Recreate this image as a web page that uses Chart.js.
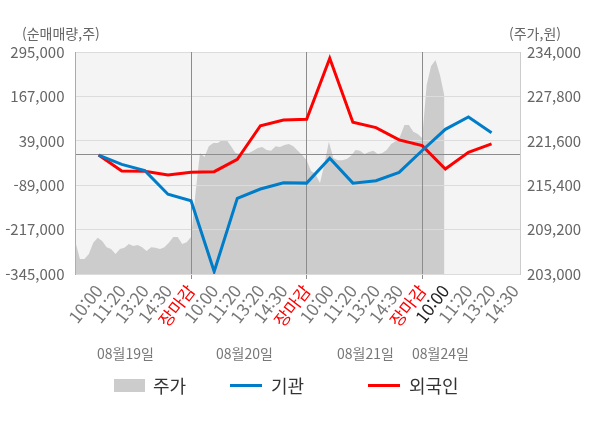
<!DOCTYPE html>
<html lang="ko">
<head>
  <meta charset="UTF-8">
  <title>기관 / 외국인 순매매량</title>
  <script src="https://cdn.jsdelivr.net/npm/chart.js"></script>
  <style>
    body {
      margin: 0;
      background: #fff;
      font-family: "Noto Sans CJK KR", "Noto Sans", sans-serif;
    }
    #wrap {
      position: relative;
      width: 600px;
      height: 428px;
    }
    #chart {
      position: absolute;
      left: 0;
      top: 0;
    }
    .txt {
      position: absolute;
      white-space: nowrap;
      line-height: 1;
    }
    .unit { font-size: 14px; color: #666; top: 26px; }
    .day { font-size: 14px; color: #777; top: 346px; }
    .legend { font-size: 18px; color: #333; top: 376px; }
    .swatch { position: absolute; }
  </style>
</head>
<body>
  <div id="wrap">
    <canvas id="chart" width="600" height="428"></canvas>

    <!-- axis units -->
    <div class="txt unit" style="left:22px">(순매매량,주)</div>
    <div class="txt unit" style="left:509px">(주가,원)</div>

    <!-- day labels under the time ticks -->
    <div class="txt day" style="left:97px">08월19일</div>
    <div class="txt day" style="left:216px">08월20일</div>
    <div class="txt day" style="left:337px">08월21일</div>
    <div class="txt day" style="left:412px">08월24일</div>

    <!-- legend -->
    <div class="swatch" style="left:114px;top:379px;width:31px;height:13px;background:#cccccc"></div>
    <div class="txt legend" style="left:153px">주가</div>
    <div class="swatch" style="left:230px;top:384px;width:32px;height:3px;background:#007dc8"></div>
    <div class="txt legend" style="left:271px">기관</div>
    <div class="swatch" style="left:368px;top:384px;width:32px;height:3px;background:#ff0000"></div>
    <div class="txt legend" style="left:409px">외국인</div>
  </div>

  <script>
    // time slots (5 per day, last day cut at 14:30)
    const xLabels = [
      '10:00', '11:20', '13:20', '14:30', '장마감',
      '10:00', '11:20', '13:20', '14:30', '장마감',
      '10:00', '11:20', '13:20', '14:30', '장마감',
      '10:00', '11:20', '13:20', '14:30'
    ];
    const currentTick = 15; // first slot of 08/24, drawn darker

    // cumulative net buying (shares)
    const institution = [
      -2000, -29000, -47000, -115000, -134000,
      -338000, -127000, -100000, -82000, -83000,
      -11500, -83000, -76000, -52000, 11000,
      72000, 107500, 62500, null
    ];
    const foreigner = [
      -2000, -48000, -49000, -59500, -52000,
      -50000, -14500, 82500, 99000, 101000,
      277000, 92500, 77000, 41500, 25000,
      -42500, 6000, 30000, null
    ];

    // share price, one value every 15 minutes of trading (09:00 ~ 15:30)
    const price = [
      207450, 205100, 205100, 205800, 207350, 208050, 207600, 206750, 206500, 205800,
      206500, 206650, 207200, 206900, 207050, 206750, 206200, 206750, 206650, 206500,
      206750, 207350, 208150, 208150, 207200, 207450, 208150, 214300, 219900, 219350,
      220850, 221300, 221300, 221700, 221700, 220850, 219900, 219750, 219900, 219900,
      220200, 220600, 220750, 220300, 220200, 220850, 220750, 221000, 221150, 220850,
      220200, 219600, 218900, 217400, 216950, 215700, 218350, 221450, 219200, 218900,
      218900, 219050, 219500, 220300, 220200, 219750, 220050, 220200, 219750, 219900,
      220300, 221150, 221550, 222150, 223800, 223800, 222850, 222550, 222000, 229400,
      232050, 232900, 230800, 227850
    ];

    const leftTicks = [-345000, -217000, -89000, 0, 39000, 167000, 295000];
    const rightTicks = [203000, 209200, 215400, 221600, 227800, 234000];

    const SLOT = 78;       // minutes per time slot (390 / 5)
    const PRICE_STEP = 15; // minutes between price samples
    const SPAN = 1500;     // minutes shown on the x axis

    const fmt = v => v.toLocaleString('en-US');

    const priceData = price.map((p, k) => ({ x: k * PRICE_STEP, y: p }));
    const instData = institution.map((v, i) => ({ x: SLOT * (i + 1), y: v }));
    const forData = foreigner.map((v, i) => ({ x: SLOT * (i + 1), y: v }));

    // plot background, and grid lines painted over the price area
    const chartDecor = {
      id: 'chartDecor',
      beforeDraw(chart) {
        const { ctx, chartArea: a } = chart;
        ctx.save();
        ctx.fillStyle = '#f4f4f4';
        ctx.fillRect(a.left, a.top, a.right - a.left, a.bottom - a.top);
        ctx.restore();
      },
      afterDatasetDraw(chart, args) {
        if (args.index !== 0) return;
        chart.scales.y.drawGrid(chart.chartArea);
        chart.scales.x.drawGrid(chart.chartArea);
      }
    };

    new Chart(document.getElementById('chart'), {
      type: 'line',
      data: {
        datasets: [
          {
            label: '주가',
            data: priceData,
            yAxisID: 'y1',
            order: 3,
            fill: 'start',
            backgroundColor: '#cccccc',
            borderWidth: 0,
            pointRadius: 0,
            tension: 0
          },
          {
            label: '기관',
            data: instData,
            yAxisID: 'y',
            order: 1,
            borderColor: '#007dc8',
            borderWidth: 3,
            pointRadius: 0,
            fill: false,
            tension: 0
          },
          {
            label: '외국인',
            data: forData,
            yAxisID: 'y',
            order: 2,
            borderColor: '#ff0000',
            borderWidth: 3,
            pointRadius: 0,
            fill: false,
            tension: 0
          }
        ]
      },
      options: {
        responsive: false,
        animation: false,
        layout: { padding: { top: 52 } },
        plugins: {
          legend: { display: false },
          tooltip: { enabled: false }
        },
        scales: {
          x: {
            type: 'linear',
            min: 0,
            max: SPAN,
            afterBuildTicks: s => { s.ticks = xLabels.map((_, i) => ({ value: SLOT * (i + 1) })); },
            afterFit: s => { s.height = 154; },
            grid: {
              color: c => xLabels[c.index] === '장마감' ? '#8c8c8c' : 'rgba(0,0,0,0)',
              tickLength: 5
            },
            border: { color: '#999', width: 1 },
            ticks: {
              minRotation: 52,
              maxRotation: 52,
              autoSkip: false,
              padding: 2,
              font: { size: 17, family: '"Noto Sans CJK KR", sans-serif' },
              color: c => xLabels[c.index] === '장마감' ? '#ff0000' : (c.index === currentTick ? '#222' : '#777'),
              callback: (v, i) => xLabels[i]
            }
          },
          y: {
            position: 'left',
            min: -345000,
            max: 295000,
            afterBuildTicks: s => { s.ticks = leftTicks.map(v => ({ value: v })); },
            afterFit: s => { s.width = 75.5; },
            grid: {
              color: c => c.tick.value === 0 ? '#8c8c8c' : '#dcdcdc',
              drawTicks: false
            },
            border: { color: '#aaa', width: 1 },
            ticks: {
              padding: 11,
              font: { size: 15, family: '"Noto Sans CJK KR", sans-serif' },
              color: '#666',
              callback: v => v === 0 ? '' : fmt(v)
            }
          },
          y1: {
            position: 'right',
            min: 203000,
            max: 234000,
            afterBuildTicks: s => { s.ticks = rightTicks.map(v => ({ value: v })); },
            afterFit: s => { s.width = 80; },
            grid: { drawOnChartArea: false, drawTicks: false },
            border: { color: '#ccc', width: 1 },
            ticks: {
              padding: 7,
              font: { size: 15, family: '"Noto Sans CJK KR", sans-serif' },
              color: '#666',
              callback: v => fmt(v)
            }
          }
        }
      },
      plugins: [chartDecor]
    });
  </script>
</body>
</html>
